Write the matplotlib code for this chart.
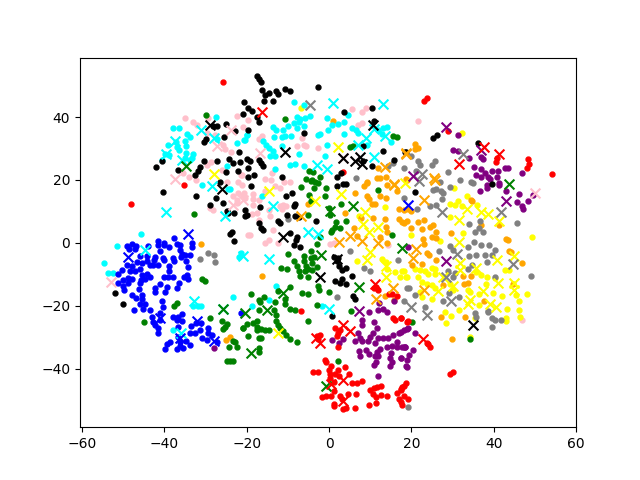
import numpy as np
import matplotlib
matplotlib.use("Agg")
import matplotlib.pyplot as plt

# ======================
# EMBEDDED POINTS
# ======================
red_pts = [(-25.7,51.2),(-35.2,18.3),(-48.2,12.5),(3.5,22.5),(23,45.2),(23.8,46.1),(28.9,35.7),(40.7,27),(40.5,25.6),(48.4,26.8),(48.6,25.2),(48.1,23.8),(54.2,21.9),
    (11.4,-13.9),(11.8,-14.9),(11,-14.4),(14.6,-16.2),(15.4,-16.4),(16.5,-17),(-6.7,-21.5),(15.6,-24),(16,-24.6),(17.4,-24),(19.1,-24.9),(1.5,-27),(2.7,-27.8),(2.3,-28.8),(1.9,-29.6),(2.1,-33.1),
    (-2.2,-29.3),(-2.6,-30.7),(-3,-29.5),(-1.1,-37.1),(-0.8,-37.8),(-3.8,-40.9),(-2.7,-40.9),(0.5,-39.2),(2.3,-40.3),(4,-39.6),(4.9,-41.6),(0.1,-40.5),(0.3,-41.8),(1.5,-41.8),(2.5,-42.4),
    (5.5,-44.7),(6.7,-44.5),(8,-44),(1.1,-44.2),(0.3,-43.1),(1.3,-47.1),(4.5,-47.9),(6.5,-48.1),(-1.8,-49),(-0.7,-48.8),(0.4,-48.6),(2.7,-48.8),(3.1,-49.5),(1.1,-51.1),(1.1,-51.9),(6.3,-52.4),
    (3.3,-52.9),(4.2,-52.6),(9.6,-51.7),(11.4,-50.8),(10,-46.9),(11,-46),(11.6,-45.8),(12.7,-45.4),(10.8,-47.9),(11.4,-49),(12.7,-48.5),(14,-48.8),(16.6,-47.6),(17.4,-46.3),(18.1,-45.6),(18.7,-44.7),
    (16.9,-49.5),(18.2,-48.8),(17.5,-50.6),(17.7,-51.6),(19.3,-49.5),(19,-25),(17.4,-24),(23.7,-31.7),(24.1,-32.3),(24.6,-33.1),(29.3,-41.8),(30.2,-41.2),(17.8,-45.8),(17.4,-46.9)]
red_cross = [(-16.3,41.5),(31.6,25),(37.7,30.4),(41.2,28.3),(11.2,-13),(3.3,-26.2),(5,-28),(-3.1,-30.1),(-2.2,-31.8),(3.5,-43.5),(3.5,-50.4),(0.5,-45),(22.9,-30.7)]

green_pts = [(-29.9,40.7),(-10.8,39.4),(16.6,33.8),(15.6,34.1),(5.1,30.4),(5.9,30.9),(-4.8,22.7),(-3.8,22.4),(-5.7,20.3),(-2.2,20.9),(-4.2,20.1),(-3.4,19.5),(-32.9,9.3),(-30.8,-11.4),(-30.2,-12),
    (-36.9,-19),(-37.6,-20.1),(-6.7,17.8),(-4.4,19.6),(-2.6,19),(-3.6,17.4),(-4.8,15.3),(-0.7,17.4),(-0.9,15),(-4.3,13.2),(2.9,12.4),(-0.1,11.1),(0.3,9),(-5,9),(4.2,7),(1.7,6.5),(1.5,5.2),(2.7,4.7),(0.7,4.2),(0.4,3.4),
    (-2.3,1.8),(-3,-0.3),(-10,-3.5),(-4.4,-2.7),(-4.4,-4.8),(-3.6,-4.5),(-6.2,-4.1),(-8.4,-5.7),(-6.2,-5.9),(-4.2,-6.4),(-7.8,-7.5),(-5.6,-7.3),(-11.7,-8),(-10.3,-8.3),(-7.4,-9.1),(-5.8,-8.8),(-5,-8.3),(-4.2,-8.6),(-3,-7.8),
    (-7,-10.5),(-5,-10.7),(-2.6,-13.7),(-2.4,-15.1),(0.1,-15.7),(-6.5,-16),(-5.1,-16.3),(-9.6,-14.1),(-10.7,-17.9),(-12.3,-15.2),(-18.9,-16.4),(-15.8,-17.3),(-17.1,-18.3),(12,16.7),(15.2,2.6),
    (-44.9,-25),(-28.8,-24),(-26.1,-24.9),(-24.9,-25.8),(-25.3,-26.7),(-25.8,-27.5),(-20.8,-27.2),(-23.4,-31.2),(-22.9,-31.5),(-24.2,-33),(-22.3,-33),(-24.9,-37.7),(-24.1,-37.7),(-23.4,-37.7),
    (-16.7,-18.7),(-16.9,-21.2),(-13.1,-18.7),(-10.8,-19.3),(-13.3,-21.2),(-12.9,-23),(-9.5,-20.9),(-8.2,-21.2),(-20,-25.8),(-20.9,-27.2),(-18.4,-25.6),(-17.6,-24.8),(-17.6,-26.7),(-17.6,-27.8),(-16.6,-27.5),(-15.5,-27.8),(-14.5,-27.8),
    (-19.8,-29.7),(-17.1,-30.2),(-16.6,-30.1),(-12.9,-24.8),(-12.3,-26.2),(-12,-27.2),(-11.1,-28),(-10.4,-29.2),(-9.6,-30.5),(-7.8,-31.4),(-5.2,-24.9),(-3,-19.7),(5.3,-21.6),(2.3,-37.7),(-17.1,-33.4),(-17.1,-34.7),(20.2,-25),(34.3,-30.7)]
green_cross = [(-34.7,24.3),(0.3,10),(5.9,11.8),(-1.9,-3.8),(7.4,-14.1),(-11.1,-15.8),(17.7,-1.7),(43.8,18.8),(-25.8,-20.9),(-20.4,-22.2),(-15.1,-21.2),(-18.9,-34.9),(-0.8,-45.4)]

blue_pts = [(-37.7,1.5),(-41.5,0.5),(-41.5,-0.6),(-40,0.1),(-40,-0.8),(-38.8,-1.3),(-36.9,-0.4),(-36.2,-0.6),(-36.2,-2.2),(-35.8,-3.5),(-33.2,0.1),(-33.2,-1.3),(-33.8,-4),(-35,-3.8),(-36,-4.5),(-34.8,-5.7),(-34.2,-7.7),(-34.6,-10.2),(-34.2,-11.4),(-35.2,-10.9),
    (-36.5,-12.8),(-36.9,-14.4),(-40,-10.7),(-39,-10.9),(-37.8,-11),(-40.3,-4.8),(-40,-5.6),(-37.8,-4.8),(-37.6,-5.9),(-38.8,-7.5),(-38.8,-8.8),(-41.1,-2.5),(-42.3,-4.5),(-42.5,-5.4),(-41.5,-7.1),(-42.7,-7),(-44.1,-1.1),(-44.3,-4.3),(-44.3,-5.9),(-43.5,-7),
    (-45.9,-4.3),(-46.6,-6.2),(-45.5,-6.4),(-47.9,-7.3),(-49.2,-7),(-48.4,-8.8),(-47.1,-8.8),(-45.9,-8.4),(-45.5,-10.2),(-44.3,-9.9),(-43.5,-10.7),(-44.7,-11.4),(-45.7,-11.7),(-45.9,-12.8),(-50.4,-8.6),(-51.2,-9.8),(-47.9,-11.4),(-48.8,-11.2),(-50,-11.7),(-51.2,-12.8),
    (-50,-13.6),(-48.8,-12.8),(-49.8,-14.9),(-46.1,-14.6),(-47.8,-16.5),(-46.9,-17.6),(-45.4,-16.5),(-45.4,-17.9),(-42.3,-14.4),(-42.3,-15.5),(-41.1,-13.1),(-39.4,-14.1),(-39.9,-15.5),(-40.7,-18.6),(-49.2,-0.9),(-47.9,-0.3),(-48.6,-2),(-47.1,-2),(-46.9,-0.9),
    (-47.3,-21.4),(-45.9,-19.3),(-44.7,-19.3),(-45.1,-20.9),(-43.5,-21.4),(-40.3,-20.5),(-41.1,-22.4),(-43.1,-23.7),(-42.7,-25.1),(-42.3,-26.2),(-41.6,-27.2),(-41.5,-28.5),(-41.1,-24.6),(-37.8,-23.5),(-37,-24.6),(-35.8,-22.7),(-35.8,-24.8),(-36.6,-23.5),
    (-36.6,-26.9),(-36.6,-29.9),(-36.2,-31.5),(-34.8,-31.2),(-33.7,-32.6),(-35.4,-33.4),(-37,-33.6),(-36.2,-32.7),(-38.6,-31.5),(-39.3,-32.3),(-39.9,-33.6),(-33.8,-28.5),(-32.6,-28.8),(-33.6,-26.4),(-32.2,-25.6),(-31,-25.6),(-31.3,-27.8),
    (-29.3,-27.2),(-29.3,-28.5),(-28.4,-29.3),(-30.8,-30.1),(-29.7,-30.9),(-27.3,-31.5),(-21.5,-22.4)]
blue_cross = [(-34.2,2.9),(-48.8,-4.5),(-41.1,-24),(-32,-24.8),(-27.9,-31.1),(-36.2,-30.4),(19.3,12.1)]

yellow_pts = [(-6.7,42.9),(32.3,35),(13.5,11.4),(7.4,8.6),(6.9,-5.7),(12.8,-5.2),(13.8,-6.2),(14.2,-8.3),(16.1,-9.3),(18.1,-8.8),(17.3,-10.7),(18.7,-10.7),
    (30.4,17.4),(33.4,14.8),(31.4,13.2),(29.3,12.5),(30.6,12.1),(32.2,11.8),(36,12.1),(29.3,8.2),(32.6,3.1),(26.9,0.5),(49.2,1.8),(19.9,2.4),(17.8,-8.8),(19,-10.7),(20.8,-8.3),(22,-8.6),(23.3,-9.1),(24.9,-8),(25.7,-8.3),(24.1,-9.8),(25.7,-9.9),
    (21.7,-10.9),(22.5,-12.3),(23.7,-13),(24.9,-13.3),(25.7,-14.4),(29.3,-13),(30,-14.9),(33.8,-14.9),(22,-15.5),(22.5,-17.3),(24.9,-17.9),(38.3,-10.7),(42.7,-8.6),(43.8,-8.6),(37,-10.1),(40.3,-11.2),(34.2,-15.5),(36.5,-16.3),(39.9,-16),(42.1,-16.9),
    (48.1,-16.2),(45.5,-16.5),(35.8,-9.4),(38.1,-13.1),(31.6,-21.2),(28.1,-21.9),(29.7,-23.4),(28.5,-25.4),(36.4,-19.6),(43.3,-20.9),(46.2,-18.5),(46.2,-21.4),(46.4,-23.7),(43,-24),(43.1,-24.9),(34.2,-29.9),(35.4,-24)]
yellow_cross = [(-27.9,21.9),(2.3,30.5),(-14.7,16.6),(-3.4,13.2),(2.9,15.5),(8.8,9.7),(8.2,6.1),(9.6,3.6),(11.8,5.2),(10,-3),(9.3,-5.4),(13.9,-10.9),(13.9,-7.3),(33.6,10.9),(37,9.7),(38.7,9.2),(41.3,6.8),(31.6,7.2),(31.6,0.2),(40.7,-5.6),(44.9,-4.3),
    (31.9,-6.4),(31.8,-8.6),(35.8,-8),(27.7,-10.9),(41.1,-12.6),(37.4,-15.2),(45,-14.9),(26.5,-15.4),(30.2,-13.8),(34.2,-18.1),(18.4,19),(45,-12.8),(39.2,-19.3),(-12.5,-28.5),(40.5,-20.5),(33.8,-19.3)]

black_pts = [(-20.7,44.7),(-20.8,41),(-42.1,24),(-40.5,25.9),(-36.6,23.3),(-31.4,24.1),(-31.8,23),(-32.6,21.7),(-30.3,25.9),(-27.1,25.9),(-29.9,33),(-30.4,32.2),(-28.1,37.1),(-27.3,37.3),(-25.4,33.7),(-25,37.8),(-22.8,35.7),(-21.8,28.9),(-24.2,26.7),(-23.3,25.4),(-21.6,25.6),
    (-20,26.7),(-25.1,22.5),(-22,23),(-19.6,23.8),(-19.8,21),(-26.5,19.2),(-17.6,53.2),(-17,52.1),(-16.6,51.3),(-16.3,48.5),(-15.5,47),(-14.5,47.7),(-12.9,48.4),(-12.3,47.2),(-10.7,49),(-9.5,48.4),(-2.8,49.6),(-15.9,45),(-13.5,45.1),(-19.6,42.9),(-18.8,41.8),
    (-17.4,40),(-16.9,38.5),(-19.8,36),(-6.2,35),(3.7,41.6),(10.5,42.9),(11,38.7),(-19.2,25.9),(-16.9,26.5),(-16.5,25.4),(-16.1,24.3),(-18.2,21.7),(-11.5,20.9),(1.9,20.9),(2.9,22.2),(13.2,29.3),(8.2,30.7),(8.2,25.9),(10.4,24.3),(15.9,26.5),(18.6,28.9),
    (25.3,33.4),(26.3,34.3),(36.2,31.8),(18.5,28.9),(39.5,18.8),(-40.3,16.2),(-32.3,15),(-27.4,14.3),(-28.8,12),(-25.7,12.7),(-24.9,10),(-24.5,9.5),(-23,9.5),(-20.4,10.3),(-20.3,8.6),(-23.6,3.3),(-24,2.8),(-23,0.6),(-51.9,-16),(-50,-19.5),
    (-19,18.2),(-20,9),(-16.7,11.4),(-10.4,15),(-8.9,15.9),(-8.6,11.8),(-8.2,12.5),(-10.3,9),(-8.2,8.4),(-7.2,8.1),(-12.5,6.8),(-11.9,6.3),(-17,6.3),(-16.5,4.7),(-16.1,4),(-9.5,3.1),(-7.7,2),(-8.1,0.8),(-8.4,-0.6),(-7,-1.3),(-3.2,6.8),(1.9,18.2),(3.5,18.6),(4.2,18.8),
    (1.2,-4.5),(2.1,-4.8),(1.9,-5.9),(2.5,-7.3),(3.1,-8.6),(4.2,-8),(5.7,-10.5),(3.1,-11.5),(1.5,-12),(2.7,-12.6),(4.2,-13),(5.8,-17),(6.3,-17.9),(20.8,16.2),(0.7,-23.3)]
black_cross = [(-28.9,37.6),(-10.8,28.9),(6.3,25.9),(7.6,27.3),(8,25.2),(10.8,37.6),(-25.9,17.1),(-11.3,1.8),(-2.1,-10.9),(1.9,-5.2),(35,-26),(3.3,27)]

cyan_pts = [(-37.8,36.5),(-36.5,36.5),(-27.4,40),(-34.4,34.6),(-33.8,33.7),(-34.9,32.5),(-39,31.1),(-37.2,32),(-37,30.5),(-34.8,30.7),(-36.5,29.4),(-34.8,28.6),(-33.1,28.3),(-33.4,27),(-35,27),(-39.9,28.4),(-40.7,26.5),(-38.8,28),(-33.8,26.5),(-27.1,33),(-24.7,24.3),(-22.3,31.8),(-20.6,32.8),(-20,34.2),
    (-8.6,44.7),(-6.2,43.7),(-7.8,40),(-7,39.4),(-5.8,39.7),(-4.6,40.3),(-8.6,38.1),(-7.4,38.3),(-9.9,37.1),(-7.8,36.5),(-6.1,37.1),(-13.7,36.7),(-12.9,35.8),(-11.1,35.8),(-0.4,39.7),(0.7,37.4),(2.1,37.8),(3.7,38.3),(4.7,40.8),(-0.3,36),(-2.2,34.7),(-2.7,34.4),(3.7,34.7),(5.7,36.5),(6.5,36),(7.1,35),
    (-13.3,33.7),(-11.5,33.7),(-10.7,34.1),(-9.3,34.1),(-20,34.4),(-20.5,32.8),(-16.1,32.3),(-15.3,31.2),(-14.7,30.2),(-13.5,29.1),(-13.1,27.5),(-14.3,27.7),(-11.5,30.9),(-7.4,28.3),(-0.5,31.1),(-1.1,27.5),(-9.5,24.9),(-8.2,25.1),(-6,24.3),(-13.1,23.5),(9.2,31.2),(12,36),(13.1,36.5),(14,36.7),(12.8,34.7),(15.1,32),
    (-30.8,18.4),(-24.5,17.1),(-24,17.1),(-45.6,2.8),(-51.4,-1),(-54.6,-6.4),(-53.6,-9.6),(-52.6,-9.6),(-23.3,-17.3),(-21.4,-3.3),(-21.8,-4.5),(-16.3,14.8),(-12.9,-13.8),(-14.7,-18.1),(-33.1,-20.1),(-31,-20.1),(-31.8,-20.1),(-37.8,-27.8),(-18.8,-20.1),(-1.6,-20.1)]
cyan_cross = [(-37.4,32.5),(-39.6,28.4),(-31,35.8),(-27.9,33.4),(-35.8,26.5),(0.9,44.5),(13,44.2),(11,36.3),(9,33.4),(7.1,31.2),(13.5,33.9),(10.9,27.3),(-3,24.9),(-0.5,23.5),(-39.5,9.8),(-28.5,18.1),(-25.3,8.4),(-44.7,-2.4),(-20.8,-4.1),(-32.7,-18.6),
    (-5.2,3.4),(-2.7,2.8),(-14.6,-5),(-13.5,11.6),(-36,-28.6),(-25.7,-20.9),(-0.1,-21.1)]

pink_pts = [(-34.9,39.7),(-33,38.5),(-32,37.6),(-29.3,39.7),(-29.7,35),(-27.7,34.4),(-25.7,31.2),(-25.3,29.9),(-23.8,28.9),(-22.3,40.3),(-19.8,39),(-21,36.9),(-29.7,24.9),(-28.7,25.7),(-34,21.1),(-35.4,22.2),(-25.9,23.3),(-32.3,20),(-24.9,19.5),(-21.4,21.7),(-22,19.2),
    (8,41.6),(9,42.9),(5.5,42.6),(8.1,38.1),(7.1,37.4),(-16.3,34.1),(-16.9,33),(-6.5,33.4),(-7.7,30.9),(-6.2,31.2),(-5.6,30.7),(-2.6,30.2),(-13.9,22.2),(-15.5,20.3),(-14.1,20),(-11,19.5),(-9.4,19.3),(-21.2,21.7),(21.6,38.9),
    (-28.3,10.3),(-28.9,11),(-23.3,14.8),(-22,15.9),(-20.8,15.3),(-19.6,2.6),(-22.4,13.7),(-21.2,18.5),(-22.4,12.7),(-20.6,15.9),(-18.5,15.6),(-20.4,14.3),(-18.4,14),(-18.5,12.1),(-17.1,13.7),(-15.5,16.4),(-13.1,18),(-11.9,17.4),(-11.1,12.1),(-10.4,11.8),(-12,11.8),(-11.5,10.8),
    (-14.7,10.5),(-18.8,9.3),(-17.6,9.5),(-14.3,8.6),(-13.5,4.2),(-19.3,2.6),(-14.5,1),(-15.5,-0.1),(-12.3,-0.1),(-16.9,7.4),(0.3,-0.3),(1.1,-0.1),(14.4,-0.6),(46.9,-24.4)]
pink_cross = [(-37.4,20.3),(-27.1,30.9),(-23.8,35.8),(-16.7,28.6),(-52.9,-12.3),(-23.3,12.1),(-20.8,13.7),(50,15.9),(3.3,27)]

orange_pts = [(0.9,38.7),(11.8,23.8),(11.6,20.6),(12.4,20.6),(13.9,21.1),(9.2,19),(18.9,20.1),(20.9,31.3),(20.8,30),(21.7,30.2),(18.7,20.3),(-31,-0.4),(-5.2,12.5),(-16.2,-10.5),(9.2,19.3),(8.4,18),(6.4,15.9),(9.2,14.8),(9.8,14),(10.4,12.5),(11.2,12.4),(12.4,14.8),(13.9,14.3),(14,18.5),(16.5,16.4),
    (17.1,10.9),(18.2,10.5),(3.9,9.5),(7.7,7.9),(10.8,7.9),(13.5,7.6),(16.9,7.6),(18.1,6.3),(19,6.8),(13.9,4.9),(6.1,4.7),(14,3.3),(14.2,0),(12.4,2),(6.9,2.3),(13.5,-17),(15.8,-18.1),(19.2,10.8),(20,10),(17.8,6.5),(21.7,6.6),(23,7.2),(19.9,4.7),(22.5,4.5),(25.3,5.8),(24.6,4.9),(26.1,3.6),
    (22.9,1.2),(23,-0.4),(24.9,1.8),(25.9,1.5),(23.7,-3.3),(24.2,-3.8),(22.5,-6.8),(20.2,-7),(26.1,-5.4),(29.6,3.1),(34.6,13.7),(34.8,13.2),(36.9,5.7),(41.2,5.6),(42.9,1.2),(43.5,0.8),(43.8,-2.7),(44.1,-2.9),(46.8,-6.4),(32.6,-10.5),(34.5,-10.5),(32.7,-13.1),(33.8,-12.8),(27.7,-13.3),(44.7,-13),
    (-25.1,-30.9),(-24,-29.9),(27.2,-23.7),(33.1,-23.7),(29.9,-30.7),(37.7,-18.5)]
orange_cross = [(13.5,24.1),(18.7,28.6),(15.9,18.7),(18.8,28.4),(25.5,20.6),(15.9,18.3),(-6.8,8.6),(2.5,0.3),(5.1,2.1),(8,0.5),(11.8,0.1),(11.4,-17.9),(15.5,-14.4),(23,13.7),(21.1,-1.9),(20.4,-4.8),(23,-15.1),(25.7,20.1)]

gray_pts = [(6.6,20.6),(15.5,25.4),(14.4,24.3),(18.3,23.8),(20,27.7),(21.7,26.1),(22,24.6),(25.7,26.1),(25,24.6),(21.2,22.7),(28.9,22.4),(31.8,20.1),(34.6,19.2),(26.9,19.3),(-29.3,-3.3),(-27.9,-3.7),(-31.3,-5.2),(-27.6,-6.1),(-9.9,7.6),(5.2,-2.5),(8.4,-8),(10,-8.9),(2,-17.3),(16.7,-5.6),(18.3,14.3),(18.9,-14.4),(18.1,-18.6),
    (26.1,17.1),(27.1,16.4),(27.7,15.9),(29.3,17.8),(34.9,19),(27.5,13.9),(26.1,12.1),(24.5,11.6),(21.4,10.8),(34,6),(36.6,6.8),(36.4,4.7),(35.4,3.6),(37.3,3.4),(45.7,6.3),(35.2,0.2),(36.8,-0.6),(38.9,-0.8),(33.8,-1.4),(29.3,-0.9),(30.2,-2.4),(26.8,-2.5),(34,-4.1),(35.8,-3.8),(37.8,-3.8),(40.3,-2.4),(39.7,-3.8),(38.3,-6.1),
    (33.8,-8.2),(34.8,-7),(28.8,-8.9),(30.6,-9.6),(30.2,-10.7),(40.4,-10.9),(49,-10.4),(19.5,-14.4),(20.8,-16.5),(29.2,-16),(31.6,-17.3),(25.3,16.9),(19.1,-52.2),(23.4,-20.5),(27.7,-18.5),(35.4,-22.4),(35.7,-23.5),(38.5,-21.6),(38.7,-22.1),(39.7,-24),(40.3,-24.4),(41.9,-24.4),(39.5,-26.7)]
gray_cross = [(-4.6,43.7),(32.6,28.1),(22.7,21.9),(21.9,19.6),(27.5,9.8),(41.9,9.7),(31,-3.5),(44.7,-6.6),(28.5,-10.7),(29.6,-18.5),(19.8,-20.5),(23.8,-23)]

purple_pts = [(31.3,34.3),(30.2,29.6),(31.4,29.1),(34,27),(37,27.3),(37.3,26.7),(35.3,24.1),(37,23.5),(39.5,23),(37.8,22.2),(35.8,21.5),(37,20.8),(38.7,21.1),(39.1,20.4),(41.1,22.7),(40.8,20.9),(42.7,23.7),(43.5,23.8),(46.9,22.2),(41.3,19),(38.4,18.5),
    (36.6,16.4),(38.4,17.4),(41.3,18.5),(42.9,16.6),(46.1,15.6),(45.7,13),(46.8,11.8),(47.2,10.8),(48.4,13.2),(49.6,15.3),(19.2,-1.3),(12.2,-19.2),(-27.9,-33.3),
    (9.8,-21.9),(12,-21.4),(13.1,-20.9),(14,-21.9),(15.9,-18.5),(8,-24.6),(8,-26.2),(11,-25.3),(11.6,-27.2),(10.8,-28.8),(10,-29.9),(7.1,-28.8),(7.5,-30.1),(6.3,-31.2),(8,-31.2),(9.4,-31.2),(11.2,-31.8),(12,-30.1),(13.2,-30.4),(14.4,-30.4),(15.6,-29.3),(17.1,-28.5),(18.1,-27.8),(19.1,-27.2),(16.5,-31.5),
    (14.2,-33.1),(15.2,-32.8),(16.5,-33.1),(18.1,-33.1),(18.5,-33.1),(12.4,-33.6),(11.6,-34.6),(7.4,-34.3),(9,-33.9),(9.6,-35.2),(7.6,-36),(11.2,-36),(12,-36),(15,-35),(14.8,-36.5),(15.2,-37.8),(14.8,-39.2),(17.4,-36.5),(18.9,-37.1),(18.9,-39.4),(11.4,-37.8),(11,-38.9),(12,-42.2),
    (0.7,-30.9),(2.5,-31.7),(3.5,-30.7),(17.6,-28.3),(19,-27.5),(20.9,-28.8),(17.8,-33.1),(18.4,-33.1),(20.4,-34.2),(19.5,-35.8),(17.4,-36.5),(18.7,-39.3)]
purple_cross = [(28.5,36.9),(37,29.4),(20.4,21.2),(42.9,13.4),(28.5,-5.7),(7.4,-21.7)]

# draw order: later classes sit on top
classes = [
    ("pink", pink_pts, pink_cross),
    ("yellow", yellow_pts, yellow_cross),
    ("orange", orange_pts, orange_cross),
    ("gray", gray_pts, gray_cross),
    ("purple", purple_pts, purple_cross),
    ("cyan", cyan_pts, cyan_cross),
    ("green", green_pts, green_cross),
    ("blue", blue_pts, blue_cross),
    ("red", red_pts, red_cross),
    ("black", black_pts, black_cross),
]

# ======================
# PLOT
# ======================
fig, ax = plt.subplots(figsize=(6.4, 4.8), dpi=100)

for color, pts, cross in classes:
    pts = np.array(pts)
    ax.scatter(pts[:, 0], pts[:, 1], s=50, marker=".", c=color)

for color, pts, cross in classes:
    cross = np.array(cross)
    ax.scatter(cross[:, 0], cross[:, 1], s=50, marker="x", c=color)

ax.set_xlim(-60.5, 60)
ax.set_ylim(-58.6, 58.9)
ax.set_xticks([-60, -40, -20, 0, 20, 40, 60])
ax.set_yticks([-40, -20, 0, 20, 40])

plt.savefig("out.png", dpi=100)
